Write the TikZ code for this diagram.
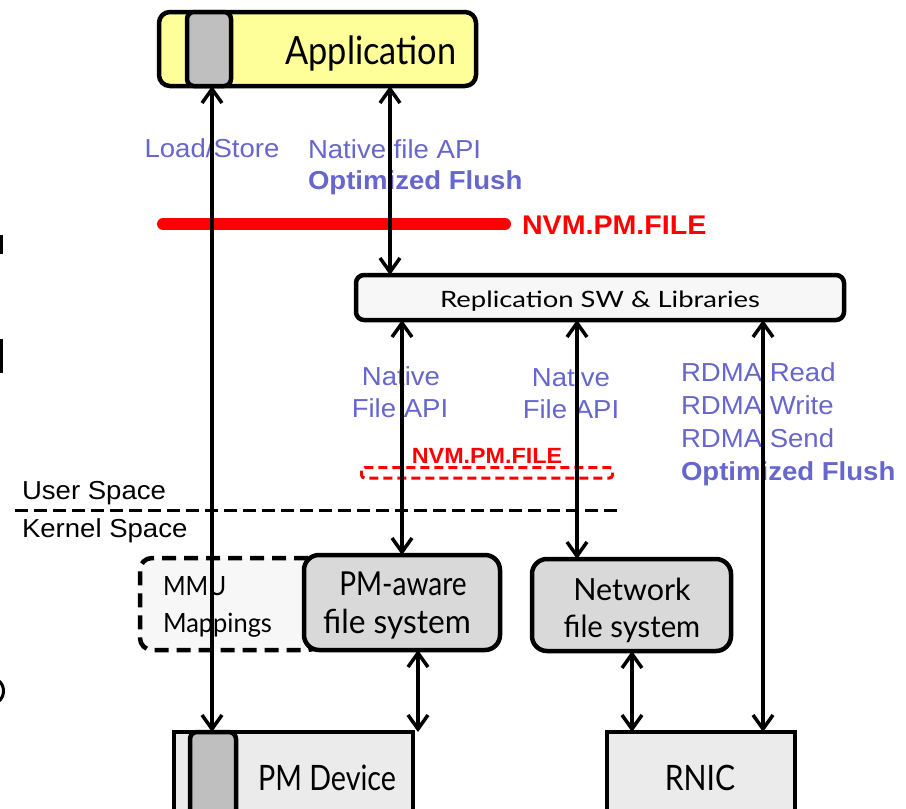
\documentclass[tikz,border=0pt]{standalone}
\usepackage{fontspec}
\setmainfont{Liberation Sans}
\newfontfamily\boxfont{Lato}
\usetikzlibrary{arrows.meta}

\definecolor{apiblue}{RGB}{102,102,204}
\definecolor{appyellow}{RGB}{255,255,153}
\definecolor{fsgray}{RGB}{217,217,217}
\definecolor{devgray}{RGB}{235,235,235}
\definecolor{slotgray}{RGB}{191,191,191}
\definecolor{pale}{RGB}{247,247,247}
\definecolor{nvmred}{RGB}{255,0,0}

% box label: size, horizontal stretch, text
\newcommand{\gstext}[3]{\scalebox{#2}[1]{\boxfont\fontsize{#1}{#1}\selectfont #3}}
% API label with a slight horizontal stretch
\newcommand{\apitext}[1]{\scalebox{1.06}[1]{#1}}

\tikzset{
  box/.style={draw=black, line width=4.5pt, inner sep=0pt, outer sep=0pt},
  lbl/.style={inner sep=0pt, outer sep=0pt},
  api/.style={lbl, text=apiblue, font=\fontsize{26}{31}\selectfont},
  apibold/.style={api, font=\fontsize{26}{31}\selectfont\bfseries},
  nvm/.style={lbl, text=nvmred, font=\fontsize{27}{32}\selectfont\bfseries},
  space/.style={lbl, text=black, font=\fontsize{26}{31}\selectfont},
  link/.style={line width=3.5pt,
    {Straight Barb[length=14pt,width=20pt]}-{Straight Barb[length=14pt,width=20pt]}},
}

\begin{document}
\begin{tikzpicture}[x=1pt,y=-1pt]
\useasboundingbox (0,0) rectangle (906,809);
\clip (0,0) rectangle (906,809);

% glyph fragments at the left margin
\fill (0,235) rectangle (3,254);
\fill (0,339) rectangle (2.5,373);
\draw[line width=3pt] (-1,681) .. controls (5,686) and (5,696) .. (-1,701);

% x positions of the vertical connectors
\coordinate (xls) at (212,0);
\coordinate (xapp) at (390,0);
\coordinate (xpmfs) at (402,0);
\coordinate (xnfs) at (577,0);
\coordinate (xrnic) at (763,0);
\coordinate (xpmdev) at (418,0);
\coordinate (xnfsdev) at (632,0);

% API labels (connectors are drawn over them)
\node[api, anchor=base] (ls) at (212,157) {\apitext{Load/Store}};
\node[api, anchor=base west] (nfa) at (308,158) {\apitext{Native file API}};
\node[apibold, anchor=base west] (of1) at (308,189) {\apitext{Optimized Flush}};

\node[api, anchor=base] (na1) at (401,385) {\apitext{Native}};
\node[api, anchor=base] (fa1) at (400,417) {\apitext{File API}};
\node[api, anchor=base] (na2) at (571,386) {\apitext{Native}};
\node[api, anchor=base] (fa2) at (571,418) {\apitext{File API}};

\node[api, anchor=base west] (rr) at (681,381) {\apitext{RDMA Read}};
\node[api, anchor=base west] (rw) at (681,414) {\apitext{RDMA Write}};
\node[api, anchor=base west] (rs) at (681,447) {\apitext{RDMA Send}};
\node[apibold, anchor=base west] (of2) at (681,480) {\apitext{Optimized Flush}};

% NVM.PM.FILE interface markers
\draw[nvmred, line width=12pt, line cap=round] (163,224) -- (505,224);
\node[nvm, anchor=base west] (nvm1) at (522,234) {\apitext{NVM.PM.FILE}};
\draw[nvmred, line width=3pt, rounded corners=3pt, dash pattern=on 9pt off 5pt]
  (361.5,467.5) rectangle (612.5,478);
\node[nvm, font=\fontsize{22}{26}\selectfont\bfseries, anchor=base] (nvm2) at (487,463) {\apitext{NVM.PM.FILE}};

% user / kernel boundary
\node[space, anchor=base west] (us) at (22,499) {\apitext{User Space}};
\draw[line width=3pt, dash pattern=on 13pt off 6pt] (15,510) -- (620,510);
\node[space, anchor=base west] (ks) at (22,537) {\apitext{Kernel Space}};

% application
\node[box, fill=appyellow, rounded corners=11pt, minimum width=317pt, minimum height=74pt] (app) at (317.5,49) {};
\node[box, fill=slotgray, rounded corners=7pt, minimum width=44pt, minimum height=74pt] (appslot) at (209,49) {};
\node[lbl, anchor=base] (apptxt) at (371,64) {\gstext{39}{0.88}{Application}};

% replication layer
\node[box, fill=pale, rounded corners=8pt, minimum width=488pt, minimum height=45pt] (repl) at (600,297.5) {};
\node[lbl, anchor=base] (repltxt) at (600,307.5) {\gstext{22.5}{1.22}{Replication SW \& Libraries}};

% kernel components
\node[box, fill=pale, rounded corners=12pt, dash pattern=on 14pt off 8pt, minimum width=180pt, minimum height=92pt] (mmu) at (230,604) {};
\node[lbl, anchor=base west] (mmu1) at (163,595) {\gstext{26.5}{0.92}{MMU}};
\node[lbl, anchor=base west] (mmu2) at (163,632) {\gstext{26.5}{0.96}{Mappings}};

\node[box, fill=fsgray, rounded corners=15pt, minimum width=196pt, minimum height=95pt] (pmfs) at (402,602.5) {};
\node[lbl, anchor=base] (pmfs1) at (403,595) {\gstext{33}{0.85}{PM-aware}};
\node[lbl, anchor=base] (pmfs2) at (397,633) {\gstext{33}{0.96}{file system}};

\node[box, fill=fsgray, rounded corners=15pt, minimum width=199pt, minimum height=92pt] (nfs) at (631.5,605) {};
\node[lbl, anchor=base] (nfs1) at (632,600) {\gstext{30.5}{1.0}{Network}};
\node[lbl, anchor=base] (nfs2) at (632,637) {\gstext{30.5}{0.96}{file system}};

% devices
\node[box, fill=devgray, minimum width=239pt, minimum height=98pt] (pmdev) at (293.5,781) {};
\node[box, fill=slotgray, rounded corners=7pt, minimum width=46pt, minimum height=98pt] (devslot) at (213,781) {};
\node[lbl, anchor=base] (pmdevtxt) at (327,790) {\gstext{35}{0.82}{PM Device}};

\node[box, fill=devgray, minimum width=188pt, minimum height=98pt] (rnic) at (701,781) {};
\node[lbl, anchor=base] (rnictxt) at (700,790) {\gstext{35}{0.86}{RNIC}};

% connectors
\draw[link] (appslot.south -| xls) -- (devslot.north -| xls);
\draw[link] (app.south -| xapp) -- (repl.north -| xapp);
\draw[link] (repl.south -| xpmfs) -- (pmfs.north -| xpmfs);
\draw[link] (repl.south -| xnfs) -- (nfs.north -| xnfs);
\draw[link] (repl.south -| xrnic) -- (rnic.north -| xrnic);
\draw[link] (pmfs.south -| xpmdev) -- (pmdev.north -| xpmdev);
\draw[link] (nfs.south -| xnfsdev) -- (rnic.north -| xnfsdev);
\end{tikzpicture}
\end{document}
